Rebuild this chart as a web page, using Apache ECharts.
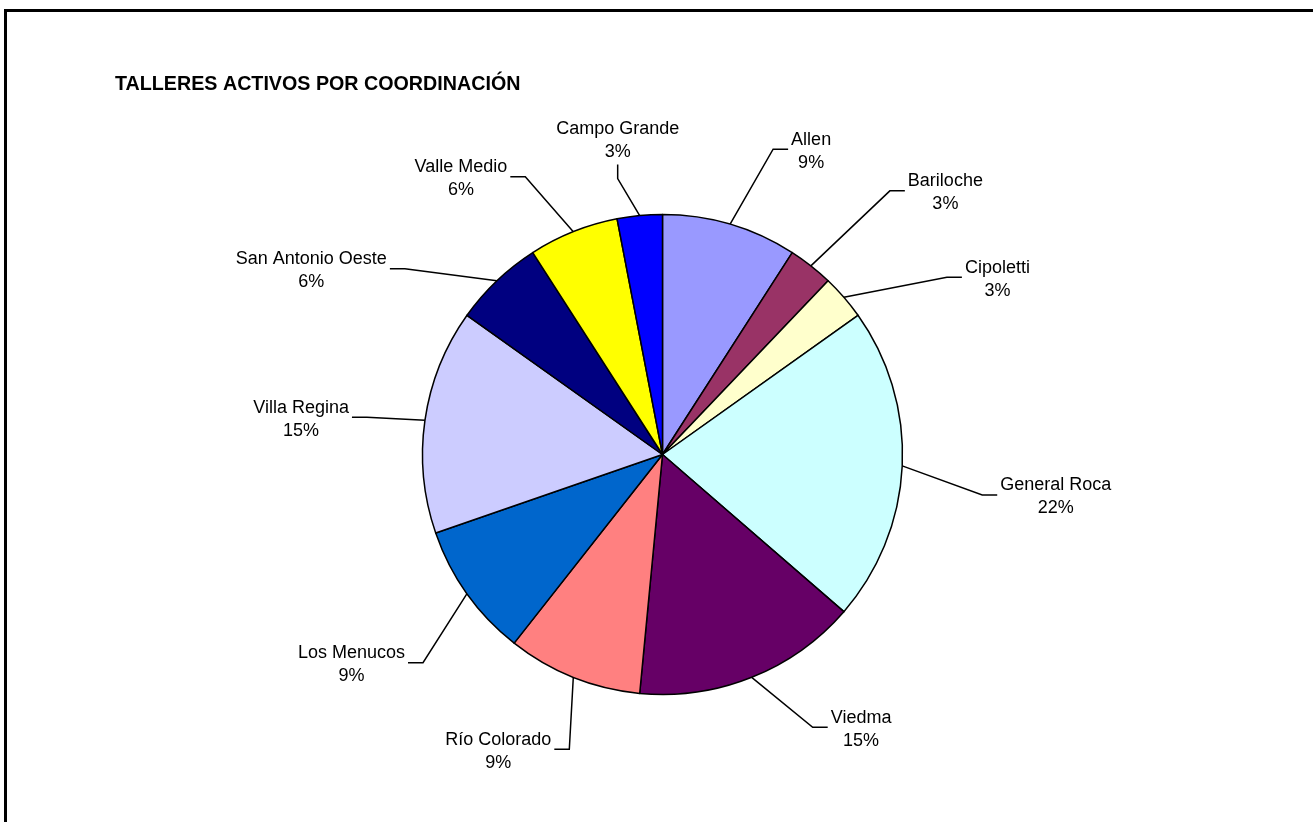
<!DOCTYPE html>
<html>
<head>
<meta charset="utf-8">
<script src="https://cdn.jsdelivr.net/npm/echarts@6/dist/echarts.min.js"></script>
<style>
html,body{margin:0;padding:0;background:#fff;}
#c{width:1313px;height:822px;}
</style>
</head>
<body>
<div id="c"></div>
<script>
// Data
const chartTitle = 'TALLERES ACTIVOS POR COORDINACIÓN';
const categories = ['Allen', 'Bariloche', 'Cipoletti', 'General Roca', 'Viedma', 'Río Colorado', 'Los Menucos', 'Villa Regina', 'San Antonio Oeste', 'Valle Medio', 'Campo Grande'];
const talleres = [3, 1, 1, 7, 5, 3, 3, 5, 2, 2, 1];

// Styles
const sliceColors = ['#9999FF', '#993366', '#FFFFCC', '#CCFFFF', '#660066', '#FF8080', '#0066CC', '#CCCCFF', '#000080', '#FFFF00', '#0000FF'];
// label leader end point, relative to the slice's outer mid point
const labelOffsets = [[58, -75], [94, -75], [118, -20], [95, 29], [76, 50], [-19, 72], [-59, 69], [-73, -3], [-107, -12], [-63, -55], [-22, -51]];
const verticalLeader = [false, false, false, false, false, false, false, false, false, false, true];

const FONT = '"Liberation Sans", Arial, Helvetica, sans-serif';
const chart = echarts.init(document.getElementById('c'), null, { renderer: 'canvas' });

const option = {
  animation: false,
  backgroundColor: '#ffffff',
  title: {
    text: chartTitle,
    left: 115,
    top: 75,
    padding: 0,
    textStyle: { fontFamily: FONT, fontSize: 19.7, fontWeight: 'bold', color: '#000' }
  },
  graphic: [{
    type: 'rect',
    shape: { x: 5.5, y: 10.5, width: 1400, height: 900 },
    style: { fill: 'none', stroke: '#000', lineWidth: 3 },
    silent: true
  }],
  series: [{
    type: 'pie',
    center: [662.5, 454.5],
    radius: 240,
    startAngle: 90,
    clockwise: true,
    percentPrecision: 0,
    avoidLabelOverlap: false,
    emphasis: { disabled: true },
    itemStyle: { borderColor: '#000', borderWidth: 1.5 },
    label: {
      show: true,
      position: 'outside',
      formatter: '{n|{b}}\n{p|{d}%}',
      color: '#000',
      fontFamily: FONT,
      fontSize: 18,
      rich: {
        n: { align: 'center', fontFamily: FONT, fontSize: 18, lineHeight: 23, color: '#000' },
        p: { align: 'center', fontFamily: FONT, fontSize: 18, lineHeight: 23, color: '#000' }
      }
    },
    labelLine: { show: true, smooth: false, lineStyle: { color: '#000', width: 1.5 } },
    labelLayout: function (p) {
      const i = p.dataIndex;
      const lay = chart.getModel().getSeriesByIndex(0).getData().getItemLayout(i);
      const mid = (lay.startAngle + lay.endAngle) / 2;
      const ax = lay.cx + lay.r * Math.cos(mid);
      const ay = lay.cy + lay.r * Math.sin(mid);
      const o = labelOffsets[i];
      const tx = ax + o[0], ty = ay + o[1];
      if (verticalLeader[i]) {
        return {
          x: tx, y: ty - 1, align: 'center', verticalAlign: 'bottom',
          labelLinePoints: [[ax, ay], [tx, ty + 14], [tx, ty]]
        };
      }
      const s = o[0] < 0 ? -1 : 1;
      return {
        x: tx + s * 3, y: ty + 2,
        align: s > 0 ? 'left' : 'right', verticalAlign: 'middle',
        labelLinePoints: [[ax, ay], [tx - s * 15, ty], [tx, ty]]
      };
    },
    data: categories.map(function (name, i) {
      return { name: name, value: talleres[i], itemStyle: { color: sliceColors[i] } };
    })
  }]
};
chart.setOption(option);
</script>
</body>
</html>
